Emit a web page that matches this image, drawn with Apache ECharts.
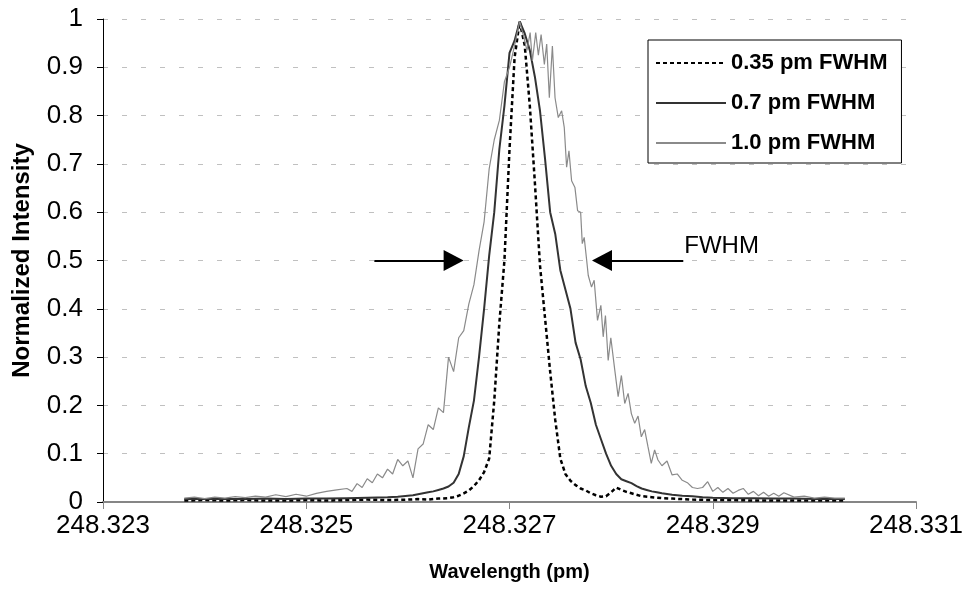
<!DOCTYPE html>
<html><head><meta charset="utf-8">
<script src="https://cdn.jsdelivr.net/npm/echarts@6/dist/echarts.min.js"></script>
<style>html,body{margin:0;padding:0;background:#fff}#c{width:966px;height:597px}</style>
</head><body><div id="c"></div>
<script>
// Axis settings (wavelength in pm)
const X_MIN = 248.323, X_MAX = 248.331, X_STEP = 0.002;
const Y_MIN = 0, Y_MAX = 1, Y_STEP = 0.1;
const seriesNames = ['0.35 pm FWHM', '0.7 pm FWHM', '1.0 pm FWHM'];

// [wavelength, normalized intensity]
const fwhm035 = [
 [248.3238,0.003],[248.3240,0.004],[248.3242,0.003],[248.3244,0.004],[248.3246,0.003],
 [248.3248,0.003],[248.3250,0.004],[248.3252,0.003],[248.3254,0.004],[248.3256,0.005],
 [248.3258,0.004],[248.3260,0.005],[248.3261,0.006],[248.3262,0.005],[248.3263,0.007],
 [248.3264,0.008],[248.32645,0.010],[248.3265,0.013],[248.32655,0.018],[248.3266,0.024],
 [248.32665,0.033],[248.3267,0.045],[248.32675,0.062],[248.3268,0.09],[248.32685,0.21],
 [248.3269,0.37],[248.32695,0.50],[248.3270,0.73],[248.32705,0.92],[248.3271,0.995],
 [248.32715,0.945],[248.3272,0.82],[248.32725,0.66],[248.3273,0.49],[248.32735,0.38],
 [248.3274,0.27],[248.32745,0.17],[248.3275,0.09],[248.32755,0.058],[248.3276,0.044],
 [248.32765,0.035],[248.3277,0.028],[248.32775,0.024],[248.3278,0.018],[248.32785,0.014],
 [248.3279,0.011],[248.32795,0.012],[248.3280,0.020],[248.32805,0.030],[248.3281,0.025],
 [248.32815,0.021],[248.3282,0.018],[248.32825,0.015],[248.3283,0.012],[248.3284,0.010],
 [248.3285,0.008],[248.3286,0.007],[248.3288,0.005],[248.3290,0.004],[248.3292,0.004],
 [248.3294,0.003],[248.3296,0.003],[248.3298,0.003],[248.3300,0.003],[248.3302,0.003],
 [248.3303,0.003]
];
const fwhm07 = [
 [248.3238,0.006],[248.3240,0.006],[248.3242,0.006],[248.3244,0.006],[248.3246,0.007],
 [248.3248,0.006],[248.3250,0.007],[248.3252,0.007],[248.3254,0.008],[248.3256,0.009],
 [248.3258,0.010],[248.3259,0.011],[248.3260,0.013],[248.32605,0.014],[248.3261,0.016],
 [248.32615,0.018],[248.3262,0.020],[248.32625,0.022],[248.3263,0.025],[248.32635,0.028],
 [248.3264,0.032],[248.32645,0.040],[248.3265,0.058],[248.32655,0.095],[248.3266,0.155],
 [248.32665,0.21],[248.3267,0.30],[248.32675,0.40],[248.3268,0.51],[248.32685,0.60],
 [248.3269,0.73],[248.32695,0.82],[248.3270,0.93],[248.32705,0.955],[248.3271,0.995],
 [248.32715,0.97],[248.3272,0.935],[248.32725,0.88],[248.3273,0.81],[248.32735,0.71],
 [248.3274,0.60],[248.32745,0.555],[248.3275,0.48],[248.32755,0.44],[248.3276,0.40],
 [248.32765,0.33],[248.3277,0.295],[248.32775,0.24],[248.3278,0.205],[248.32785,0.16],
 [248.3279,0.13],[248.32795,0.10],[248.3280,0.075],[248.32805,0.058],[248.3281,0.047],
 [248.32815,0.043],[248.3282,0.039],[248.32825,0.033],[248.3283,0.028],[248.32835,0.025],
 [248.3284,0.022],[248.32845,0.020],[248.3285,0.018],[248.3286,0.015],[248.3287,0.013],
 [248.3288,0.012],[248.3289,0.010],[248.3290,0.009],[248.3292,0.008],[248.3294,0.008],
 [248.3296,0.007],[248.3298,0.007],[248.3300,0.006],[248.3302,0.006],[248.3303,0.006]
];
const fwhm10 = [
 [248.3238,0.008],[248.3239,0.010],[248.3240,0.007],[248.3241,0.010],[248.3242,0.008],
 [248.3243,0.011],[248.3244,0.009],[248.3245,0.012],[248.3246,0.010],[248.3247,0.015],
 [248.3248,0.011],[248.3249,0.016],[248.3250,0.012],[248.3251,0.018],[248.3252,0.022],
 [248.3253,0.025],[248.3254,0.028],[248.32545,0.022],[248.3255,0.038],[248.32555,0.030],
 [248.3256,0.048],[248.32565,0.040],[248.3257,0.058],[248.32575,0.050],[248.3258,0.068],
 [248.32585,0.058],[248.3259,0.088],[248.32595,0.075],[248.3260,0.085],[248.32605,0.050],
 [248.3261,0.110],[248.32615,0.120],[248.3262,0.160],[248.32625,0.150],[248.3263,0.195],
 [248.32635,0.185],[248.3264,0.300],[248.32645,0.270],[248.3265,0.340],[248.32655,0.355],
 [248.3266,0.410],[248.32665,0.450],[248.3267,0.520],[248.32675,0.580],[248.3268,0.690],
 [248.32685,0.750],[248.3269,0.790],[248.32695,0.870],[248.3270,0.900],[248.32705,0.945],
 [248.3271,0.995],[248.327137,0.965],[248.327172,0.935],[248.327203,0.972],[248.327225,0.913],
 [248.327258,0.972],[248.327284,0.925],[248.327311,0.968],[248.327343,0.906],[248.327366,0.948],
 [248.327392,0.837],[248.327422,0.944],[248.327448,0.837],[248.32748,0.796],[248.327513,0.810],
 [248.327539,0.775],[248.327562,0.693],[248.327585,0.727],[248.327611,0.665],[248.327644,0.651],
 [248.32767,0.603],[248.3277,0.600],[248.327716,0.535],[248.327735,0.548],[248.327758,0.503],
 [248.327775,0.469],[248.327807,0.445],[248.327833,0.459],[248.327866,0.376],[248.327899,0.407],
 [248.327922,0.342],[248.327944,0.386],[248.327971,0.293],[248.327997,0.340],[248.328036,0.273],
 [248.328069,0.218],[248.328101,0.262],[248.328134,0.204],[248.328167,0.225],[248.328199,0.183],
 [248.328232,0.163],[248.328265,0.178],[248.328297,0.135],[248.32833,0.150],[248.328363,0.114],
 [248.328395,0.080],[248.328428,0.108],[248.328461,0.087],[248.3285,0.075],[248.32855,0.085],
 [248.3286,0.056],[248.32865,0.058],[248.3287,0.045],[248.32875,0.040],[248.3288,0.030],
 [248.32885,0.028],[248.3289,0.030],[248.32895,0.042],[248.3290,0.022],[248.32905,0.030],
 [248.3291,0.020],[248.32915,0.028],[248.3292,0.018],[248.32925,0.024],[248.3293,0.028],
 [248.32935,0.016],[248.3294,0.022],[248.32945,0.013],[248.3295,0.020],[248.32955,0.012],
 [248.3296,0.018],[248.32965,0.012],[248.3297,0.019],[248.3298,0.010],[248.3299,0.012],
 [248.3300,0.008],[248.3301,0.010],[248.3302,0.008],[248.3303,0.008]
];

// FWHM annotation arrows [start wavelength, end wavelength, level]
const arrowLeft = [248.32567, 248.32645, 0.5];
const arrowRight = [248.32871, 248.32791, 0.5];
const fwhmLabel = [248.32872, 0.5, 'FWHM'];

const FONT = 'Arial, "Liberation Sans", sans-serif';
const toAxis = w => (w - X_MIN) * 1000;   // axis runs in thousandths of a pm above X_MIN
const conv = arr => arr.map(p => [toAxis(p[0]), p[1]]);

const chart = echarts.init(document.getElementById('c'), null, {renderer: 'canvas'});
const option = {
  animation: false,
  backgroundColor: '#fff',
  grid: {left: 103, right: 47, top: 19, bottom: 95, containLabel: false},
  legend: {
    orient: 'vertical', left: 648, top: 40,
    padding: [12, 14, 9, 7],
    itemWidth: 70, itemHeight: 14, itemGap: 18,
    borderColor: '#000', borderWidth: 1, backgroundColor: '#fff',
    itemStyle: {opacity: 0, borderWidth: 0},
    textStyle: {fontFamily: FONT, fontSize: 22, fontWeight: 'bold', color: '#000'},
    data: seriesNames
  },
  xAxis: {
    type: 'value',
    min: 0, max: (X_MAX - X_MIN) * 1000, interval: X_STEP * 1000,
    name: 'Wavelength (pm)', nameLocation: 'middle', nameGap: 60,
    nameTextStyle: {fontFamily: FONT, fontSize: 20, fontWeight: 'bold', color: '#000'},
    axisLine: {show: true, lineStyle: {color: '#868686', width: 2}},
    axisTick: {show: true, length: 7, lineStyle: {color: '#868686', width: 1}},
    axisLabel: {fontFamily: FONT, fontSize: 26, color: '#000', margin: 11,
      formatter: v => (X_MIN + v / 1000).toFixed(3)},
    splitLine: {show: false}
  },
  yAxis: {
    type: 'value', min: Y_MIN, max: Y_MAX, interval: Y_STEP,
    name: 'Normalized Intensity', nameLocation: 'middle', nameGap: 69, nameRotate: 90,
    nameTextStyle: {fontFamily: FONT, fontSize: 24, fontWeight: 'bold', color: '#000'},
    axisLine: {show: true, lineStyle: {color: '#000', width: 1}},
    axisTick: {show: true, length: 6, lineStyle: {color: '#000', width: 1}},
    axisLabel: {fontFamily: FONT, fontSize: 26, color: '#000', margin: 20,
      formatter: v => String(Math.round(v * 10) / 10)},
    splitLine: {show: true, lineStyle: {color: '#c0c0c0', width: 1, type: [5, 14]}}
  },
  series: [
    {name: seriesNames[0], type: 'line', data: conv(fwhm035), symbol: 'none',
     lineStyle: {color: '#000', width: 2.5, type: [4, 3]}, itemStyle: {color: '#000'}},
    {name: seriesNames[1], type: 'line', data: conv(fwhm07), symbol: 'none',
     lineStyle: {color: '#333', width: 2}, itemStyle: {color: '#333'}},
    {name: seriesNames[2], type: 'line', data: conv(fwhm10), symbol: 'none',
     lineStyle: {color: '#8a8a8a', width: 1.2}, itemStyle: {color: '#8a8a8a'},
     markLine: {
       silent: true, symbol: ['none', 'triangle'], symbolSize: [21, 20],
       label: {show: false},
       lineStyle: {color: '#000', width: 2, type: 'solid'},
       data: [
         [{coord: [toAxis(arrowLeft[0]), arrowLeft[2]]}, {coord: [toAxis(arrowLeft[1]), arrowLeft[2]]}],
         [{coord: [toAxis(arrowRight[0]), arrowRight[2]]}, {coord: [toAxis(arrowRight[1]), arrowRight[2]]}]
       ]
     },
     markPoint: {
       silent: true, symbol: 'rect', symbolSize: 0,
       data: [{coord: [toAxis(fwhmLabel[0]), fwhmLabel[1]], value: fwhmLabel[2]}],
       label: {show: true, position: 'right', distance: 0, offset: [0, -14],
         formatter: fwhmLabel[2], fontFamily: FONT, fontSize: 24, color: '#000'}
     }}
  ]
};
chart.setOption(option);
</script></body></html>
